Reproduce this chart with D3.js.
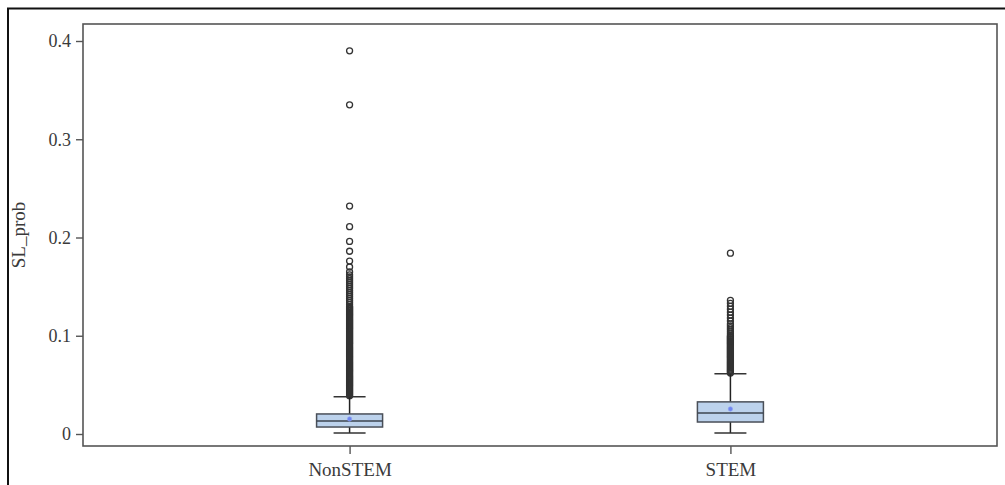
<!DOCTYPE html>
<html><head><meta charset="utf-8">
<script src="https://cdn.jsdelivr.net/npm/d3@7"></script>
<style>html,body{margin:0;padding:0;background:#fff;}svg{display:block;}
text{font-family:'Liberation Serif','Times New Roman',serif;}</style>
</head><body>
<svg id="chart" width="1005" height="485"></svg>
<script>
const categories = ["NonSTEM", "STEM"];
const q1 = [0.0071, 0.0122];
const median = [0.0133, 0.0214];
const q3 = [0.0204, 0.0327];
const mean = [0.0153, 0.0255];
const whiskerLow = [0.001, 0.001];
const whiskerHigh = [0.0378, 0.0612];
const yTicks = [0, 0.1, 0.2, 0.3, 0.4];
const yTickLabels = ["0", "0.1", "0.2", "0.3", "0.4"];
const outliersNonSTEM = [0.390, 0.335, 0.232, 0.211, 0.196, 0.186, 0.176, 0.170, 0.165,
  0.162, 0.160, 0.158, 0.156, 0.154, 0.152, 0.150, 0.148, 0.146, 0.144, 0.142, 0.140, 0.138,
  0.136, 0.134, 0.132, 0.130, 0.129, 0.128, 0.127, 0.126, 0.125, 0.124, 0.123, 0.122, 0.121,
  0.120, 0.119, 0.118, 0.117, 0.116, 0.115, 0.114, 0.113, 0.112, 0.111, 0.110, 0.109, 0.108,
  0.107, 0.106, 0.105, 0.104, 0.103, 0.102, 0.101, 0.100, 0.099, 0.098, 0.097, 0.096, 0.095,
  0.094, 0.093, 0.092, 0.091, 0.090, 0.089, 0.088, 0.087, 0.086, 0.085, 0.084, 0.083, 0.082,
  0.081, 0.080, 0.079, 0.078, 0.077, 0.076, 0.075, 0.074, 0.073, 0.072, 0.071, 0.070, 0.069,
  0.068, 0.067, 0.066, 0.065, 0.064, 0.063, 0.062, 0.061, 0.060, 0.059, 0.058, 0.057, 0.056,
  0.055, 0.054, 0.053, 0.052, 0.051, 0.050, 0.049, 0.048, 0.047, 0.046, 0.045, 0.044, 0.043,
  0.042, 0.041, 0.040, 0.039];
const outliersSTEM = [0.184, 0.136, 0.133, 0.130, 0.127, 0.124, 0.121, 0.118, 0.115, 0.112,
  0.110, 0.108, 0.106, 0.104, 0.102, 0.100, 0.099, 0.098, 0.097, 0.096, 0.095, 0.094, 0.093,
  0.092, 0.091, 0.090, 0.089, 0.088, 0.087, 0.086, 0.085, 0.084, 0.083, 0.082, 0.081, 0.080,
  0.079, 0.078, 0.077, 0.076, 0.075, 0.074, 0.073, 0.072, 0.071, 0.070, 0.069, 0.068, 0.067,
  0.066, 0.065, 0.064, 0.063, 0.062];
const outliers = [outliersNonSTEM, outliersSTEM];

const svg = d3.select("#chart");
const m = {left: 83, right: 997, top: 24, bottom: 446};
const FONT = "'Liberation Serif','Times New Roman',serif";

// outer frame
svg.append("rect").attr("x", 8).attr("y", 8.5).attr("width", 1010).attr("height", 500)
  .attr("fill", "none").attr("stroke", "#111").attr("stroke-width", 2);

const x = d3.scalePoint().domain(categories).range([m.left, m.right]).padding(0.7);
const y = d3.scaleLinear().domain([0, 0.4]).range([434, 41]);

// plot frame
svg.append("rect").attr("x", m.left).attr("y", m.top)
  .attr("width", m.right - m.left).attr("height", m.bottom - m.top)
  .attr("fill", "none").attr("stroke", "#555").attr("stroke-width", 1.6);

// y axis
const yAxis = d3.axisLeft(y).tickValues(yTicks).tickFormat((d, i) => yTickLabels[i]).tickSize(7).tickPadding(5);
const gy = svg.append("g").attr("transform", `translate(${m.left},0)`).call(yAxis);
gy.attr("font-family", null);
gy.select(".domain").remove();
gy.selectAll("line").attr("stroke", "#555").attr("stroke-width", 1.4);
gy.selectAll("text").style("font-family", FONT).style("font-size", "18px").attr("fill", "#3a3a3a");

// x axis
const xAxis = d3.axisBottom(x).tickSize(8).tickPadding(9);
const gx = svg.append("g").attr("transform", `translate(0,${m.bottom})`).call(xAxis);
gx.attr("font-family", null);
gx.select(".domain").remove();
gx.selectAll("line").attr("stroke", "#555").attr("stroke-width", 1.4);
gx.selectAll("text").style("font-family", FONT).style("font-size", "19px").attr("fill", "#3a3a3a");

// y title
svg.append("text").attr("transform", `translate(25,${(m.top + m.bottom) / 2}) rotate(-90)`)
  .attr("text-anchor", "middle").style("font-family", FONT)
  .style("font-size", "19px").attr("fill", "#3a3a3a").text("SL_prob");

const boxW = 66, capW = 32;
categories.forEach((c, i) => {
  const cx = x(c);
  const g = svg.append("g");
  // outliers
  g.selectAll("circle.out").data(outliers[i]).enter().append("circle")
    .attr("class", "out").attr("cx", cx).attr("cy", d => y(d)).attr("r", 3)
    .attr("fill", "none").attr("stroke", "#333").attr("stroke-width", 1.3);
  // whiskers
  g.append("line").attr("x1", cx).attr("x2", cx).attr("y1", y(q3[i])).attr("y2", y(whiskerHigh[i]))
    .attr("stroke", "#222").attr("stroke-width", 1.5);
  g.append("line").attr("x1", cx).attr("x2", cx).attr("y1", y(q1[i])).attr("y2", y(whiskerLow[i]))
    .attr("stroke", "#222").attr("stroke-width", 1.5);
  [whiskerHigh[i], whiskerLow[i]].forEach(v => {
    g.append("line").attr("x1", cx - capW / 2).attr("x2", cx + capW / 2).attr("y1", y(v)).attr("y2", y(v))
      .attr("stroke", "#333").attr("stroke-width", 1.5);
  });
  // box
  g.append("rect").attr("x", cx - boxW / 2).attr("y", y(q3[i]))
    .attr("width", boxW).attr("height", y(q1[i]) - y(q3[i]))
    .attr("fill", "#bcd2ec").attr("stroke", "#4a4f58").attr("stroke-width", 1.5);
  g.append("line").attr("x1", cx - boxW / 2).attr("x2", cx + boxW / 2)
    .attr("y1", y(median[i])).attr("y2", y(median[i]))
    .attr("stroke", "#3c4450").attr("stroke-width", 1.6);
  // mean
  g.append("circle").attr("cx", cx).attr("cy", y(mean[i])).attr("r", 2.2)
    .attr("fill", "#6f86ee").attr("stroke", "#8fa0f5").attr("stroke-width", 0.6);
});
</script>
</body></html>
